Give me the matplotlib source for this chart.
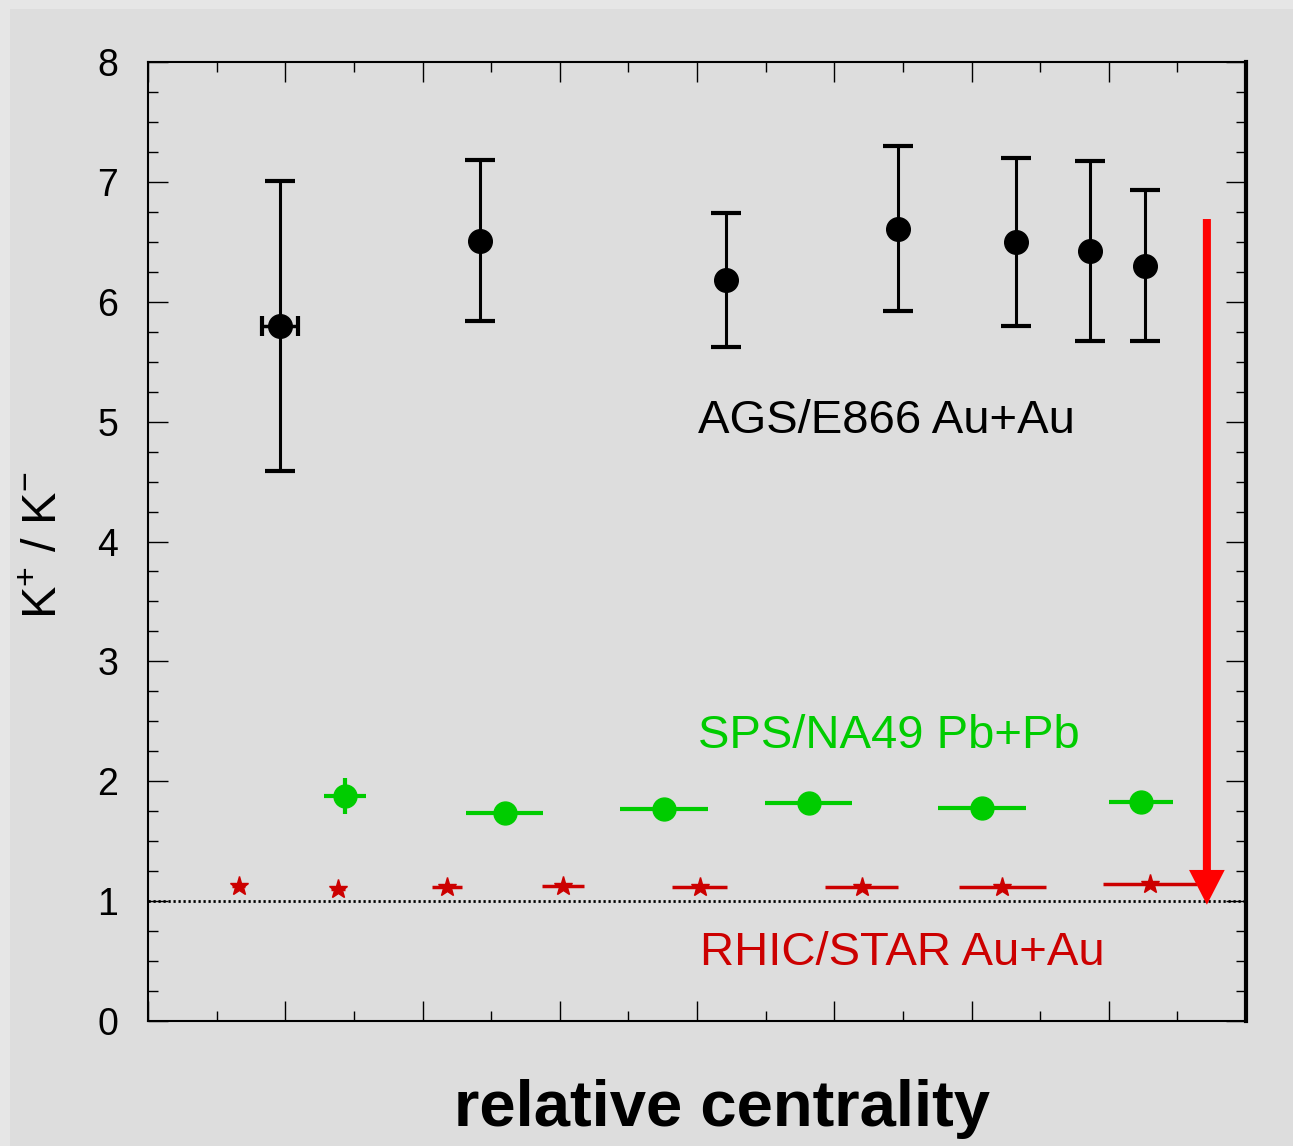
import numpy as np
import matplotlib
matplotlib.use("Agg")
import matplotlib.pyplot as plt
from matplotlib.ticker import MultipleLocator
from matplotlib.patches import Rectangle

plt.rcParams['font.family'] = ['Liberation Sans', 'DejaVu Sans']
plt.rcParams['mathtext.fontset'] = 'custom'
plt.rcParams['mathtext.rm'] = 'Liberation Sans'

# AGS/E866 Au+Au
ags_x = [1.92, 4.84, 8.42, 10.93, 12.65, 13.73, 14.53]
ags_y = [5.80, 6.51, 6.18, 6.61, 6.50, 6.42, 6.30]
ags_yerr = [1.21, 0.67, 0.56, 0.69, 0.70, 0.75, 0.63]
ags_xerr0 = 0.26

# SPS/NA49 Pb+Pb
sps_x = [2.87, 5.20, 7.52, 9.63, 12.15, 14.47]
sps_y = [1.88, 1.735, 1.77, 1.82, 1.78, 1.83]
sps_xerr = [0.30, 0.56, 0.64, 0.635, 0.64, 0.47]
sps_yerr = [0.15, 0, 0, 0, 0, 0]

# RHIC/STAR Au+Au
star_x = [1.32, 2.77, 4.36, 6.05, 8.04, 10.40, 12.45, 14.60]
star_y = [1.13, 1.10, 1.12, 1.125, 1.12, 1.12, 1.12, 1.145]
star_xerr = [0.1, 0.1, 0.22, 0.31, 0.40, 0.53, 0.63, 0.69]

fig = plt.figure(figsize=(12.93, 11.46), dpi=100)
fig.patch.set_facecolor('#e6e6e6')
panel = Rectangle((10 / 1293, 0), 1, 1 - 9 / 1146,
                  transform=fig.transFigure, facecolor='#dddddd',
                  edgecolor='none', zorder=-10)
fig.patches.append(panel)

ax = fig.add_axes([148 / 1293, 1 - 1021 / 1146, 1098 / 1293, 959 / 1146])
ax.set_facecolor('none')
ax.set_xlim(0, 16)
ax.set_ylim(0, 8)

# reference line at 1
ax.axhline(1, color='black', lw=2, ls=(0, (0.8, 1.0)), zorder=1)

ax.errorbar(star_x, star_y, xerr=star_xerr, fmt='*', color='#cc0000',
            ms=14, elinewidth=2.5, capsize=0, zorder=3)
ax.errorbar(sps_x, sps_y, xerr=sps_xerr, yerr=sps_yerr, fmt='o',
            color='#00cc00', ms=16.5, elinewidth=3, capsize=0, zorder=3)
ax.errorbar(ags_x, ags_y, yerr=ags_yerr, fmt='o', color='black', ms=17,
            elinewidth=2.2, capsize=11, capthick=3, zorder=4)
ax.errorbar(ags_x[:1], ags_y[:1], xerr=ags_xerr0, fmt='none', color='black',
            elinewidth=2.5, capsize=7, capthick=3, zorder=4)

ax.text(8.01, 4.905, 'AGS/E866 Au+Au', color='black', fontsize=34,
        va='baseline', ha='left')
ax.text(8.02, 2.277, 'SPS/NA49 Pb+Pb', color='#00cc00', fontsize=34,
        va='baseline', ha='left')
ax.text(8.04, 0.467, 'RHIC/STAR Au+Au', color='#cc0000', fontsize=34,
        va='baseline', ha='left')

ax.arrow(15.43, 6.69, 0, 0.97 - 6.69, width=0.117, head_width=0.52,
         head_length=0.29, length_includes_head=True, color='#ff0000',
         lw=0, zorder=5)

ax.xaxis.set_major_locator(MultipleLocator(2))
ax.xaxis.set_minor_locator(MultipleLocator(1))
ax.yaxis.set_major_locator(MultipleLocator(1))
ax.yaxis.set_minor_locator(MultipleLocator(0.25))
ax.tick_params(which='both', direction='in', top=True, right=True,
               labelbottom=False, width=1)
ax.tick_params(which='major', length=14.5)
ax.tick_params(which='minor', length=7)
ax.tick_params(axis='y', which='major', labelsize=27, pad=21.5)
for s in ['left', 'top', 'bottom']:
    ax.spines[s].set_linewidth(1.5)
ax.spines['right'].set_linewidth(3)

ax.set_ylabel(r'K$^{\mathregular{+}}$ / K$^{\mathregular{-}}$', fontsize=35)
ax.yaxis.set_label_coords(-0.074, 0.496)
ax.set_xlabel('relative centrality', fontsize=47, fontweight='bold')
ax.xaxis.set_label_coords(0.523, -0.06)

fig.savefig('out.png', dpi=100, facecolor=fig.get_facecolor())
